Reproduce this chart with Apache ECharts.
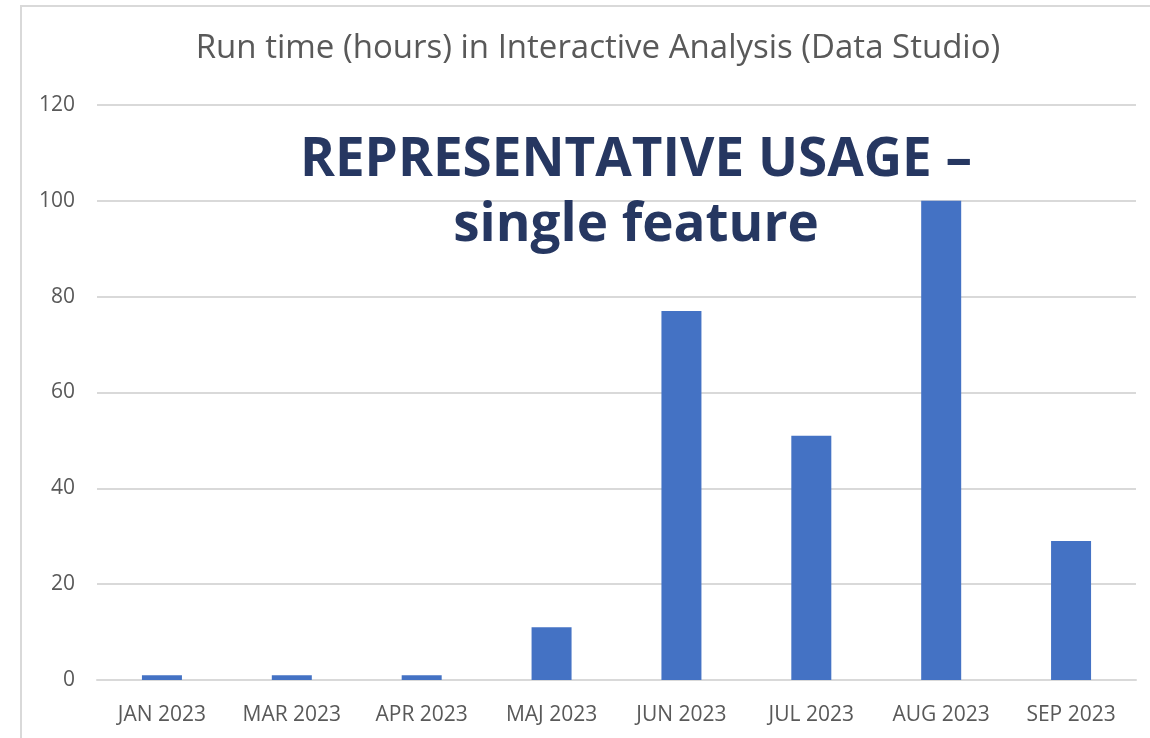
<!DOCTYPE html>
<html>
<head>
<meta charset="utf-8">
<script src="https://cdn.jsdelivr.net/npm/echarts@6/dist/echarts.min.js"></script>
<style>
    html, body { margin: 0; padding: 0; background: #ffffff; }
    #main { width: 1150px; height: 738px; }
</style>
</head>
<body>
<div id="main"></div>
<script>
    // data
    const months = ['JAN 2023', 'MAR 2023', 'APR 2023', 'MAJ 2023', 'JUN 2023', 'JUL 2023', 'AUG 2023', 'SEP 2023'];
    const hours = [1, 1, 1, 11, 77, 51, 100, 29];
    const yTicks = { min: 0, max: 120, step: 20 };

    const chart = echarts.init(document.getElementById('main'));

    const option = {
        animation: false,
        backgroundColor: '#ffffff',
        title: {
            text: 'Run time (hours) in Interactive Analysis (Data Studio)',
            left: 593,
            textAlign: 'center',
            top: 27,
            textStyle: {
                color: '#595959',
                fontFamily: 'Open Sans',
                fontWeight: 'normal',
                fontSize: 33
            }
        },
        grid: {
            left: 97,
            right: 14,
            top: 105,
            bottom: 58
        },
        xAxis: {
            type: 'category',
            data: months,
            axisTick: { show: false },
            axisLine: { lineStyle: { color: '#d9d9d9', width: 2 } },
            axisLabel: {
                color: '#595959',
                fontFamily: 'Open Sans',
                fontSize: 21,
                margin: 25
            }
        },
        yAxis: {
            type: 'value',
            min: yTicks.min,
            max: yTicks.max,
            interval: yTicks.step,
            axisLine: { show: false },
            axisTick: { show: false },
            splitLine: { lineStyle: { color: '#d9d9d9', width: 2 } },
            axisLabel: {
                color: '#595959',
                fontFamily: 'Open Sans',
                fontSize: 21,
                margin: 22
            }
        },
        series: [{
            type: 'bar',
            data: hours,
            barWidth: 40,
            itemStyle: { color: '#4472c4' }
        }],
        graphic: [
            {
                type: 'rect',
                shape: { x: 21, y: 6, width: 1200, height: 800 },
                style: { fill: 'none', stroke: '#d9d9d9', lineWidth: 2 },
                silent: true
            },
            {
                // overlay note sitting on top of the plot
                type: 'text',
                style: {
                    text: 'REPRESENTATIVE USAGE –\nsingle feature',
                    x: 636,
                    y: 193,
                    textAlign: 'center',
                    textVerticalAlign: 'middle',
                    fill: '#263761',
                    font: 'bold 53px "Open Sans"',
                    lineHeight: 65
                },
                z: 100
            }
        ]
    };

    chart.setOption(option);
</script>
</body>
</html>
